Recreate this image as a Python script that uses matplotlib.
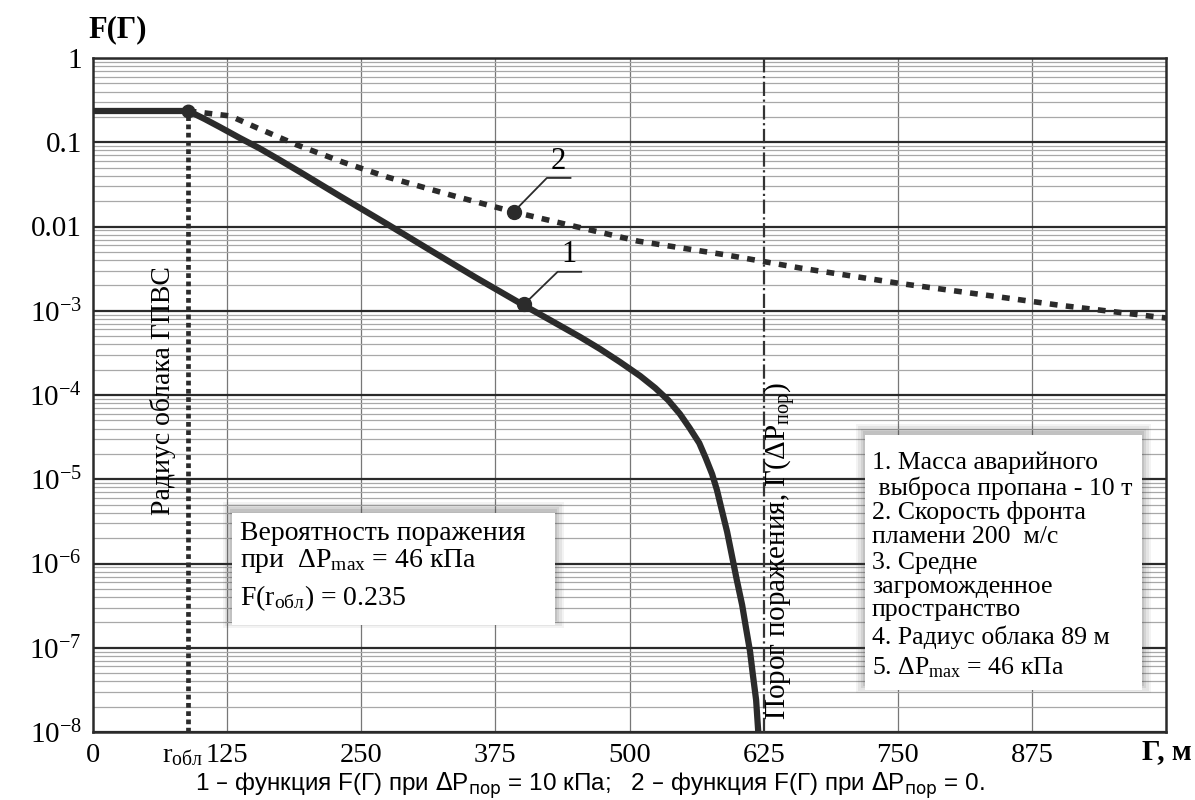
import matplotlib
matplotlib.use('Agg')
import matplotlib.pyplot as plt
import matplotlib.patches as mpatches
from matplotlib.ticker import LogLocator, NullFormatter
from matplotlib.transforms import ScaledTranslation

plt.rcParams['font.family'] = ['Liberation Serif', 'DejaVu Serif']
plt.rcParams['mathtext.fontset'] = 'custom'
plt.rcParams['mathtext.rm'] = 'Liberation Serif'
plt.rcParams['mathtext.it'] = 'Liberation Serif:italic'
plt.rcParams['mathtext.bf'] = 'Liberation Serif:bold'

# ---- данные ----
r_obl = 89
F_obl = 0.235
G_thr = 625

# кривая 1: ΔPпор = 10 кПа
g1 = [0, 89, 104, 118, 137, 155, 174, 193, 230, 274, 314, 356, 401, 426,
      454, 472.5, 491, 510, 524, 536, 547, 556, 565, 571, 577, 581.5, 586,
      591, 595.5, 600, 605, 608.6, 612.3, 615, 618, 620]
f1 = [0.235, 0.235, 0.189, 0.152, 0.112, 0.085, 0.0616, 0.0443, 0.023,
      0.0107, 5.26e-3, 2.51e-3, 1.17e-3, 7.76e-4, 4.88e-4, 3.52e-4, 2.47e-4,
      1.68e-4, 1.21e-4, 8.7e-5, 5.95e-5, 4.06e-5, 2.69e-5, 1.79e-5, 1.15e-5,
      7.45e-6, 4.31e-6, 2.37e-6, 1.23e-6, 6.37e-7, 3.21e-7, 1.71e-7, 9.1e-8,
      4.75e-8, 2.4e-8, 1e-8]

# кривая 2: ΔPпор = 0
g2 = [89, 128, 153, 190, 233, 274, 333, 392, 451, 508, 590, 660, 753, 846,
      899, 1000]
f2 = [0.235, 0.205, 0.148, 0.093, 0.058, 0.0387, 0.0237, 0.0149, 0.0099,
      0.0067, 0.0046, 0.0032, 0.0021, 0.00145, 0.00117, 8.2e-4]

x_grid = [125, 250, 375, 500, 750, 875]
x_ticks = [0, r_obl, 125, 250, 375, 500, 625, 750, 875]
x_labels = ['0', r'r$_{\mathrm{обл}}$', '125', '250', '375', '500', '625', '750', '875']
y_ticks = [1e-8, 1e-7, 1e-6, 1e-5, 1e-4, 1e-3, 0.01, 0.1, 1]
y_labels = [r'$10^{-8}$', r'$10^{-7}$', r'$10^{-6}$', r'$10^{-5}$', r'$10^{-4}$',
            r'$10^{-3}$', '0.01', '0.1', '1']

# маркеры-выноски
mark1 = (402, 1.2e-3)
mark2 = (392, 0.0149)

W, H = 1195, 800
def px(x, y):
    return x / W, 1 - y / H

fig = plt.figure(figsize=(W / 100, H / 100), dpi=100)
ax = fig.add_axes([93 / W, 1 - 732 / H, (1166 - 93) / W, (732 - 58) / H])
ax.set_yscale('log')
ax.set_xlim(0, 1000)
ax.set_ylim(1e-8, 1)

# сетка
ax.yaxis.set_minor_locator(LogLocator(base=10, subs=range(2, 10)))
ax.yaxis.set_minor_formatter(NullFormatter())
ax.grid(True, which='major', axis='y', color='#2a2a2a', lw=1.6)
ax.grid(True, which='minor', axis='y', color='#a8a8a8', lw=0.9)
for xg in x_grid:
    ax.axvline(xg, color='#777777', lw=0.9, zorder=0.5)
ax.set_axisbelow(True)

ax.set_xticks(x_ticks)
ax.set_xticklabels(x_labels, fontsize=20.5)
ax.set_yticks(y_ticks)
ax.set_yticklabels(y_labels, fontsize=21)
ax.tick_params(which='both', length=0, pad=8)
lab = ax.get_xticklabels()[1]
lab.set_transform(lab.get_transform() + ScaledTranslation(-4 / 72, 0, fig.dpi_scale_trans))
for s in ax.spines.values():
    s.set_linewidth(1.8)
    s.set_color('#2a2a2a')

# кривые
col = '#2b2b2b'
ax.plot(g2, f2, color=col, lw=4.0, dashes=(1.4, 1.5), zorder=3)
ax.plot(g1, f1, color=col, lw=4.5, zorder=4, solid_joinstyle='round')
ax.plot([r_obl, r_obl], [1e-8, F_obl], color=col, lw=3.4, dashes=(1.0, 0.75), zorder=3)
ax.axvline(G_thr, color='#333333', lw=1.6, ls='-.', zorder=3)
ax.plot([r_obl], [F_obl], 'o', color=col, ms=9, zorder=5)
ax.plot([mark1[0]], [mark1[1]], 'o', color=col, ms=10, zorder=5)
ax.plot([mark2[0]], [mark2[1]], 'o', color=col, ms=10, zorder=5)

# выноски 1 и 2
ax.plot([mark2[0], 423, 445], [mark2[1], 0.0377, 0.0377], color=col, lw=1.3, zorder=5)
ax.text(434, 0.040, '2', fontsize=22, ha='center', va='bottom')
ax.plot([mark1[0], 433, 455], [mark1[1], 2.9e-3, 2.9e-3], color=col, lw=1.3, zorder=5)
ax.text(444, 3.1e-3, '1', fontsize=22, ha='center', va='bottom')

# вертикальные подписи
ax.text(65, 10 ** -3.95, 'Радиус облака ГПВС', rotation=90, fontsize=20,
        ha='center', va='center')
fig.text(*px(780, 720), r'Порог поражения, Г($\Delta$P$_{\mathrm{пор}}$)',
         rotation=90, fontsize=21, ha='center', va='bottom')

# подписи осей
fig.text(*px(88, 30), 'F(Г)', fontsize=22, fontweight='bold', ha='left', va='center')
fig.text(*px(1192, 752), 'Г, м', fontsize=21, fontweight='bold', ha='right', va='center')

# рамки с тенью
def box(x0, y0, x1, y1):
    fx0, fy1 = px(x0, y0)
    fx1, fy0 = px(x1, y1)
    for i, a in enumerate([0.06, 0.08, 0.10, 0.12]):
        d = (4 - i) * 2.2
        sx0, sy1 = px(x0 - d, y0 - d - 2)
        sx1, sy0 = px(x1 + d, y1 + d - 6)
        fig.add_artist(mpatches.Rectangle((sx0, sy0), sx1 - sx0, sy1 - sy0,
                                          transform=fig.transFigure, fc='#404040',
                                          ec='none', alpha=a, zorder=5))
    fig.add_artist(mpatches.Rectangle((fx0, fy0), fx1 - fx0, fy1 - fy0,
                                      transform=fig.transFigure, fc='white',
                                      ec='none', zorder=6))

box(232, 513, 555, 625)
lines1 = [('Вероятность поражения', 533),
          (r'при  $\Delta$P$_{\mathrm{max}}$ = 46 кПа', 561),
          (r'F(r$_{\mathrm{обл}}$) = 0.235', 598)]
for t, y in lines1:
    fig.text(*px(240, y), t, fontsize=20, ha='left', va='center', zorder=7)

box(865, 435, 1142, 690)
lines2 = [('1. Масса аварийного', 463),
          (' выброса пропана - 10 т', 488),
          ('2. Скорость фронта', 513),
          ('пламени 200  м/с', 537),
          ('3. Средне', 563),
          ('загроможденное', 587),
          ('пространство', 610),
          ('4. Радиус облака 89 м', 637),
          (r'5. $\Delta$P$_{\mathrm{max}}$ = 46 кПа', 668)]
for t, y in lines2:
    fig.text(*px(872, y), t, fontsize=18.5, ha='left', va='center', zorder=7)

# подпись под графиком
fig.text(*px(590, 786),
         r'1 – функция F(Г) при $\Delta$P$_{\mathrm{пор}}$ = 10 кПа;   '
         r'2 – функция F(Г) при $\Delta$P$_{\mathrm{пор}}$ = 0.',
         fontsize=17.5, family=['Liberation Sans', 'DejaVu Sans'],
         math_fontfamily='dejavusans', ha='center', va='center')

fig.savefig('out.png', dpi=100, facecolor='white')
